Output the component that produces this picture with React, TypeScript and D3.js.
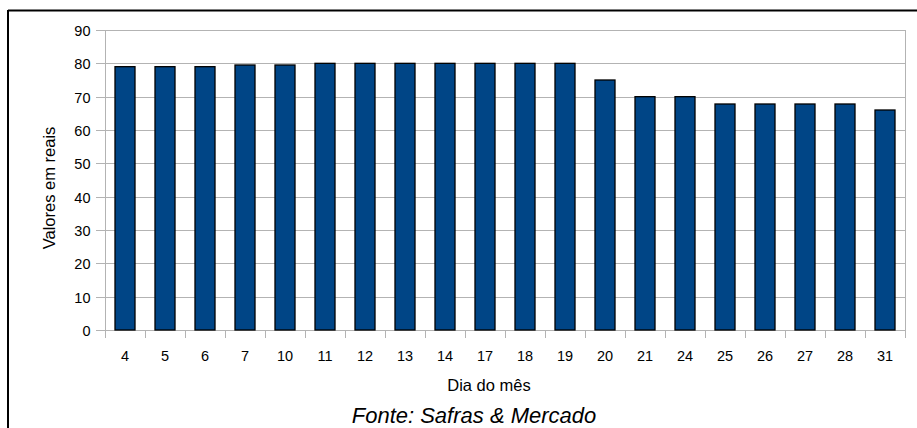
import React from "react";
import * as d3 from "d3";

const days = ["4","5","6","7","10","11","12","13","14","17","18","19","20","21","24","25","26","27","28","31"];
const values = [79,79,79,79.5,79.5,80,80,80,80,80,80,80,75,70,70,67.8,67.8,67.8,67.8,66];
const yTicks = [0,10,20,30,40,50,60,70,80,90];

export default function App() {
  const W = 917, H = 428;
  const left = 105, right = 905, top = 30, bottom = 330;
  const x = d3.scaleBand<string>().domain(days).range([left, right]).paddingInner(0).paddingOuter(0);
  const y = d3.scaleLinear().domain([0, 90]).range([bottom, top]);
  const bw = x.bandwidth() / 2;
  const font = "'Liberation Sans', Arial, sans-serif";
  return (
    <svg width={W} height={H} style={{ position: "absolute", left: 0, top: 0, background: "#fff" }} fontFamily={font}>
      <rect x={0} y={0} width={W} height={H} fill="#fff" />
      <line x1={8} y1={10.5} x2={W} y2={10.5} stroke="#000" strokeWidth={2} />
      <line x1={8} y1={10} x2={8} y2={H} stroke="#000" strokeWidth={2} />
      {yTicks.map(t => (
        <g key={t}>
          <line x1={96} x2={right} y1={Math.round(y(t)) + 0.5} y2={Math.round(y(t)) + 0.5} stroke="#b3b3b3" strokeWidth={1} />
          <text x={90.5} y={y(t) + 6} textAnchor="end" fontSize={14.5} fill="#000">{t}</text>
        </g>
      ))}
      <line x1={left + 0.5} x2={left + 0.5} y1={top} y2={bottom + 8} stroke="#b3b3b3" />
      <line x1={right + 0.5} x2={right + 0.5} y1={top} y2={bottom + 8} stroke="#b3b3b3" />
      {days.map((d) => (
        <line key={"t" + d} x1={(x(d) as number) + 0.5} x2={(x(d) as number) + 0.5} y1={bottom} y2={bottom + 8} stroke="#b3b3b3" />
      ))}
      {days.map((d, i) => (
        <rect key={"b" + d} x={(x(d) as number) + x.bandwidth() / 2 - bw / 2} y={y(values[i])} width={bw} height={bottom - y(values[i])}
          fill="#004586" stroke="#000" strokeWidth={1.3} />
      ))}
      {days.map(d => (
        <text key={"l" + d} x={(x(d) as number) + x.bandwidth() / 2} y={361} textAnchor="middle" fontSize={14.5} fill="#000">{d}</text>
      ))}
      <text x={489} y={391} textAnchor="middle" fontSize={16.5} fill="#000">Dia do mês</text>
      <text transform={`translate(55,188) rotate(-90)`} textAnchor="middle" fontSize={16.5} fill="#000">Valores em reais</text>
      <text x={474} y={423} textAnchor="middle" fontSize={22} fontStyle="italic" fill="#000">Fonte: Safras &amp; Mercado</text>
    </svg>
  );
}
